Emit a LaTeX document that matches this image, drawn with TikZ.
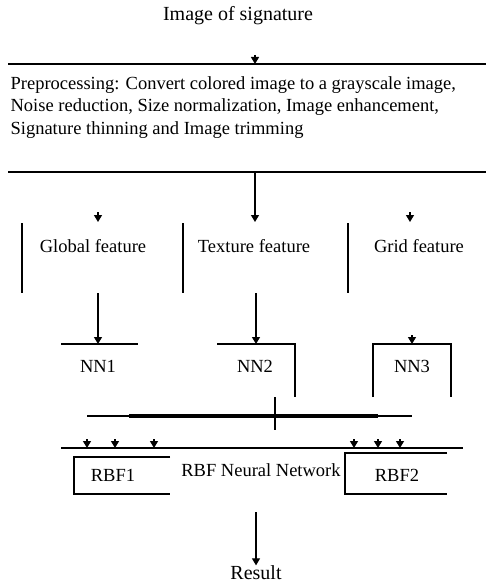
\documentclass[tikz,border=0pt]{standalone}
\usepackage{fontspec}
\setmainfont{Liberation Serif}
\usetikzlibrary{arrows.meta, positioning, calc}

\begin{document}
\begin{tikzpicture}[x=1pt, y=-1pt, line width=1.2pt,
  tip/.style={-{Triangle[width=8pt, length=7pt]}},
  txt/.style={font=\fontsize{18.5}{22.5}\selectfont, inner sep=0pt},
  big/.style={font=\fontsize{20}{24}\selectfont, inner sep=0pt}]
  \useasboundingbox (0,0) rectangle (486,585);

  \node[big] (sig) at (238, 16) {Image of signature};
  \node[txt, anchor=north west, align=left] (prep) at (10, 76)
    {Preprocessing: Convert colored image to a grayscale image,\\
     Noise reduction, Size normalization, Image enhancement,\\
     Signature thinning and Image trimming};

  \node[txt] (glob) at (93, 246) {Global feature};
  \node[txt] (tex) at (254, 246) {Texture feature};
  \node[txt] (grid) at (419, 246) {Grid feature};

  \node[txt] (nn1) at (98, 366) {NN1};
  \node[txt] (nn2) at (255, 366) {NN2};
  \node[txt] (nn3) at (412, 366) {NN3};

  \node[txt] (rbf1) at (113, 475) {RBF1};
  \node[txt] (rbfnet) at (261, 470) {RBF Neural Network};
  \node[txt] (rbf2) at (397, 475) {RBF2};
  \node[big] (res) at (256, 573) {Result};

  % bars above and below the preprocessing text
  \draw (8, 64) -- (486, 64);
  \draw (8, 172) -- (486, 172);

  \coordinate (sigin) at (255, 55);
  \coordinate (prepin) at (255, 64);
  \draw[tip] (sigin) -- (prepin);

  \coordinate (prepout) at (255, 172);
  \coordinate (texin) at (255, 222);
  \draw[tip] (prepout) -- (texin);
  \coordinate (globs) at (98, 212);
  \coordinate (globin) at (98, 222);
  \draw[tip] (globs) -- (globin);
  \coordinate (grids) at (410, 212);
  \coordinate (gridin) at (410, 222);
  \draw[tip] (grids) -- (gridin);

  % feature columns
  \draw (22, 223) -- (22, 293);
  \draw (183, 223) -- (183, 293);
  \draw (348, 223) -- (348, 293);

  \coordinate (globout) at (98, 293);
  \coordinate (nn1in) at (98, 344);
  \draw[tip] (globout) -- (nn1in);
  \coordinate (texout) at (256, 293);
  \coordinate (nn2in) at (256, 344);
  \draw[tip] (texout) -- (nn2in);
  \coordinate (nn3s) at (412, 335);
  \coordinate (nn3in) at (412, 344);
  \draw[tip] (nn3s) -- (nn3in);

  % NN brackets
  \draw (61, 344) -- (138, 344);
  \draw (217, 344) -- (295, 344) -- (295, 397);
  \draw (373, 397) -- (373, 344) -- (451, 344) -- (451, 397);

  \draw (87, 416) -- (412, 416);
  \draw[line width=3.6pt] (129, 416) -- (378, 416);
  \draw (275, 397) -- (275, 430);

  \draw (61, 448) -- (463, 448);
  \foreach \x [count=\i] in {87, 115, 154, 354, 378, 400} {
    \coordinate (rs\i) at (\x, 439);
    \coordinate (re\i) at (\x, 448);
    \draw[tip] (rs\i) -- (re\i);
  }

  % RBF brackets
  \draw (170, 457) -- (74, 457) -- (74, 494) -- (170, 494);
  \draw (447, 453) -- (345, 453) -- (345, 494) -- (447, 494);

  \coordinate (netout) at (256, 512);
  \draw[tip] (netout) -- (res.north);
\end{tikzpicture}
\end{document}
